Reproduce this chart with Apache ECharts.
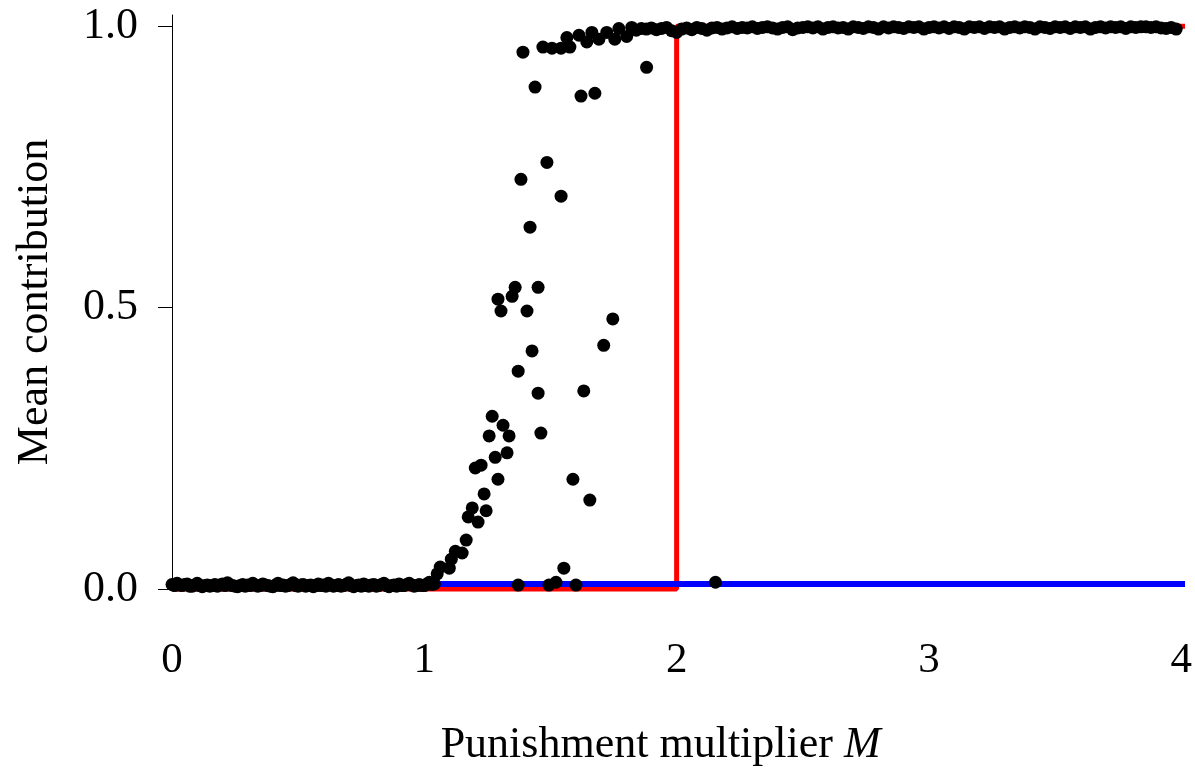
<!DOCTYPE html>
<html>
<head>
<meta charset="utf-8">
<script src="https://cdn.jsdelivr.net/npm/echarts@6/dist/echarts.min.js"></script>
<style>
    html, body { margin: 0; padding: 0; background: #fff; }
    #main { width: 1195px; height: 772px; }
</style>
</head>
<body>
<div id="main"></div>
<script>
// simulated mean contribution, M below 1 (defection)
var lowPoints = [
    [0.00, 0.008], [0.01, 0.006], [0.02, 0.010], [0.03, 0.007], [0.04, 0.006], [0.05, 0.008],
    [0.06, 0.009], [0.07, 0.005], [0.08, 0.005], [0.09, 0.007], [0.10, 0.010], [0.11, 0.006],
    [0.12, 0.004], [0.13, 0.006], [0.14, 0.007], [0.15, 0.005], [0.16, 0.006], [0.17, 0.008],
    [0.18, 0.005], [0.19, 0.007], [0.20, 0.009], [0.21, 0.006], [0.22, 0.011], [0.23, 0.007],
    [0.24, 0.006], [0.25, 0.005], [0.26, 0.004], [0.27, 0.006], [0.28, 0.008], [0.29, 0.005],
    [0.30, 0.007], [0.31, 0.006], [0.32, 0.010], [0.33, 0.007], [0.34, 0.005], [0.35, 0.006],
    [0.36, 0.009], [0.37, 0.007], [0.38, 0.006], [0.39, 0.005], [0.40, 0.004], [0.41, 0.007],
    [0.42, 0.010], [0.43, 0.006], [0.44, 0.007], [0.45, 0.005], [0.46, 0.006], [0.47, 0.008],
    [0.48, 0.011], [0.49, 0.006], [0.50, 0.005], [0.51, 0.007], [0.52, 0.008], [0.53, 0.005],
    [0.54, 0.006], [0.55, 0.007], [0.56, 0.004], [0.57, 0.006], [0.58, 0.009], [0.59, 0.006],
    [0.60, 0.007], [0.61, 0.005], [0.62, 0.010], [0.63, 0.007], [0.64, 0.005], [0.65, 0.006],
    [0.66, 0.008], [0.67, 0.005], [0.68, 0.006], [0.69, 0.008], [0.70, 0.011], [0.71, 0.006],
    [0.72, 0.004], [0.73, 0.006], [0.74, 0.007], [0.75, 0.005], [0.76, 0.009], [0.77, 0.006],
    [0.78, 0.005], [0.79, 0.007], [0.80, 0.008], [0.81, 0.005], [0.82, 0.006], [0.83, 0.008],
    [0.84, 0.010], [0.85, 0.006], [0.86, 0.004], [0.87, 0.006], [0.88, 0.007], [0.89, 0.005],
    [0.90, 0.009], [0.91, 0.006], [0.92, 0.006], [0.93, 0.008], [0.94, 0.010], [0.95, 0.007],
    [0.96, 0.005], [0.97, 0.006], [0.98, 0.008], [0.99, 0.006], [1.00, 0.006], [1.01, 0.009],
    [1.02, 0.012], [1.03, 0.008], [1.04, 0.009]
];

// transition region
var midPoints = [
    [1.051, 0.027], [1.063, 0.039], [1.099, 0.037], [1.107, 0.053], [1.123, 0.067], [1.150, 0.064],
    [1.166, 0.087], [1.174, 0.128], [1.213, 0.119], [1.190, 0.144], [1.245, 0.139], [1.237, 0.169],
    [1.202, 0.215], [1.225, 0.220], [1.281, 0.234], [1.328, 0.242], [1.292, 0.195], [1.257, 0.272],
    [1.336, 0.272], [1.269, 0.307], [1.312, 0.291], [1.462, 0.277], [1.372, 0.387], [1.451, 0.348],
    [1.427, 0.423], [1.632, 0.352], [1.711, 0.433], [1.747, 0.480], [1.292, 0.515], [1.348, 0.520],
    [1.304, 0.494], [1.407, 0.494], [1.360, 0.536], [1.451, 0.536], [1.419, 0.643], [1.542, 0.698],
    [1.383, 0.728], [1.486, 0.758], [1.439, 0.892], [1.621, 0.876], [1.676, 0.881], [1.881, 0.927],
    [1.391, 0.954], [1.589, 0.195], [1.656, 0.158], [1.553, 0.037], [1.372, 0.007], [1.494, 0.007],
    [1.522, 0.012], [1.601, 0.007], [2.154, 0.012],
    [1.470, 0.963], [1.506, 0.961], [1.542, 0.961], [1.577, 0.963], [1.565, 0.980], [1.613, 0.984],
    [1.644, 0.972], [1.664, 0.989], [1.692, 0.977], [1.723, 0.989], [1.755, 0.977], [1.771, 0.996],
    [1.802, 0.982], [1.822, 0.998]
];

// M above the threshold (full cooperation)
var highPoints = [
    [1.84, 0.993], [1.86, 0.996], [1.88, 0.995], [1.90, 0.997], [1.92, 0.994], [1.94, 0.996],
    [1.96, 0.998], [1.98, 0.992], [2.00, 0.989], [2.02, 0.995], [2.04, 0.997], [2.06, 0.994],
    [2.08, 0.998], [2.10, 0.996], [2.12, 0.993], [2.14, 0.997], [2.16, 0.998], [2.18, 0.995],
    [2.20, 0.997], [2.22, 0.999], [2.24, 0.996], [2.26, 0.998], [2.28, 0.997], [2.30, 0.999],
    [2.32, 0.996], [2.34, 0.998], [2.36, 0.999], [2.38, 0.997], [2.40, 0.995], [2.42, 0.998],
    [2.44, 0.999], [2.46, 0.994], [2.48, 0.997], [2.50, 0.998], [2.52, 0.999], [2.54, 0.997],
    [2.56, 0.999], [2.58, 0.995], [2.60, 0.998], [2.62, 0.999], [2.64, 0.997], [2.66, 0.998],
    [2.68, 0.995], [2.70, 0.999], [2.72, 0.998], [2.74, 0.996], [2.76, 0.999], [2.78, 0.998],
    [2.80, 0.995], [2.82, 0.999], [2.84, 0.997], [2.86, 0.999], [2.88, 0.998], [2.90, 0.996],
    [2.92, 0.999], [2.94, 0.998], [2.96, 0.999], [2.98, 0.995], [3.00, 0.998], [3.02, 0.999],
    [3.04, 0.997], [3.06, 0.999], [3.08, 0.996], [3.10, 0.999], [3.12, 0.998], [3.14, 0.995],
    [3.16, 0.999], [3.18, 0.998], [3.20, 0.999], [3.22, 0.996], [3.24, 0.999], [3.26, 0.998],
    [3.28, 0.999], [3.30, 0.995], [3.32, 0.998], [3.34, 0.999], [3.36, 0.997], [3.38, 0.999],
    [3.40, 0.998], [3.42, 0.995], [3.44, 0.999], [3.46, 0.998], [3.48, 0.996], [3.50, 0.999],
    [3.52, 0.998], [3.54, 0.999], [3.56, 0.996], [3.58, 0.999], [3.60, 0.998], [3.62, 0.999],
    [3.64, 0.995], [3.66, 0.998], [3.68, 0.999], [3.70, 0.997], [3.72, 0.999], [3.74, 0.998],
    [3.76, 0.999], [3.78, 0.996], [3.80, 0.999], [3.82, 0.998], [3.84, 0.999], [3.86, 0.999],
    [3.88, 0.998], [3.90, 0.999], [3.92, 0.997], [3.94, 0.996], [3.96, 0.998], [3.98, 0.995]
];

// analytic curves
var redLine = [[0, 0], [2, 0], [2, 1], [4.03, 1]];
var blueLine = [[1, 0.009], [4.03, 0.009]];

var yTicks = [0, 0.5, 1];

var FONT = 'Liberation Serif';

var option = {
    animation: false,
    backgroundColor: '#ffffff',
    grid: {
        left: 172,
        right: 12,
        top: 15,
        bottom: 182
    },
    xAxis: {
        type: 'value',
        min: 0,
        max: 4,
        interval: 1,
        name: 'Punishment multiplier {i|M}',
        nameLocation: 'middle',
        nameGap: 134,
        nameTextStyle: {
            fontFamily: FONT,
            fontSize: 44,
            color: '#000',
            padding: [0, 32, 0, 0],
            rich: {
                i: { fontFamily: FONT, fontSize: 44, fontStyle: 'italic', color: '#000' }
            }
        },
        axisLine: { show: false },
        axisTick: { show: false },
        splitLine: { show: false },
        axisLabel: {
            fontFamily: FONT,
            fontSize: 43,
            color: '#000',
            margin: 50
        }
    },
    yAxis: {
        type: 'value',
        min: 0,
        max: 1.02,
        name: 'Mean contribution',
        nameLocation: 'middle',
        nameGap: 115,
        nameTextStyle: {
            fontFamily: FONT,
            fontSize: 44,
            color: '#000'
        },
        axisLine: { show: true, lineStyle: { color: '#000', width: 1 } },
        axisTick: {
            show: true,
            length: 14,
            customValues: yTicks,
            lineStyle: { color: '#000', width: 1 }
        },
        splitLine: { show: false },
        axisLabel: {
            customValues: yTicks,
            fontFamily: FONT,
            fontSize: 44,
            color: '#000',
            margin: 34,
            formatter: function (v) {
                return v.toFixed(1);
            }
        }
    },
    series: [
        {
            type: 'line',
            data: redLine,
            symbol: 'none',
            clip: false,
            lineStyle: { color: '#ff0000', width: 5 },
            z: 1
        },
        {
            type: 'line',
            data: blueLine,
            symbol: 'none',
            clip: false,
            lineStyle: { color: '#0000ff', width: 6 },
            z: 2
        },
        {
            type: 'scatter',
            data: lowPoints.concat(midPoints, highPoints),
            symbol: 'circle',
            symbolSize: 13,
            itemStyle: { color: '#000000', opacity: 1 },
            z: 3
        }
    ]
};

var myChart = echarts.init(document.getElementById('main'));
myChart.setOption(option);
</script>
</body>
</html>
